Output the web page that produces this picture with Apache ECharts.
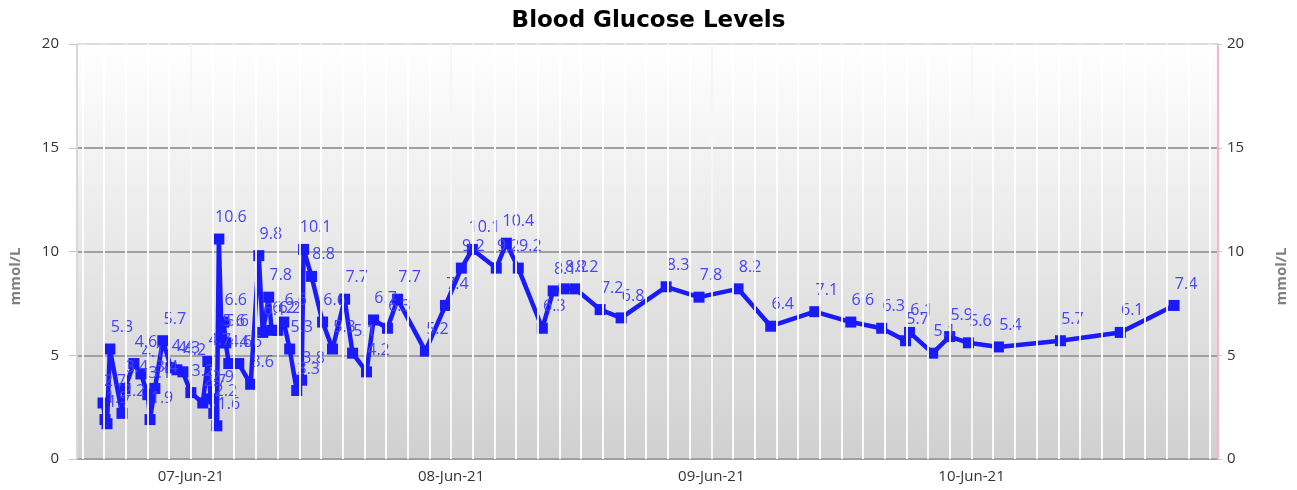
<!DOCTYPE html>
<html>
<head>
<meta charset="utf-8">
<script src="https://cdn.jsdelivr.net/npm/echarts@6/dist/echarts.min.js"></script>
<style>
  html, body { margin: 0; padding: 0; background: #ffffff; }
  #chart { width: 1297px; height: 490px; }
</style>
</head>
<body>
<div id="chart"></div>
<script>
// ---- data ----
var title = 'Blood Glucose Levels';
var axisName = 'mmol/L';
var times = [
  '2021-06-06 15:54','2021-06-06 16:05','2021-06-06 16:16','2021-06-06 16:32','2021-06-06 17:39',
  '2021-06-06 17:55','2021-06-06 18:45','2021-06-06 19:24','2021-06-06 20:02','2021-06-06 20:14',
  '2021-06-06 20:41','2021-06-06 21:25','2021-06-06 22:10','2021-06-06 22:43','2021-06-06 23:16',
  '2021-06-07 00:00','2021-06-07 01:06','2021-06-07 01:34','2021-06-07 01:50','2021-06-07 02:07',
  '2021-06-07 02:24','2021-06-07 02:35','2021-06-07 02:51','2021-06-07 03:02','2021-06-07 03:13',
  '2021-06-07 03:30','2021-06-07 04:25','2021-06-07 05:31','2021-06-07 06:16','2021-06-07 06:38',
  '2021-06-07 07:11','2021-06-07 07:27','2021-06-07 08:01','2021-06-07 08:34','2021-06-07 09:07',
  '2021-06-07 09:46','2021-06-07 10:13','2021-06-07 10:24','2021-06-07 11:08','2021-06-07 12:09',
  '2021-06-07 13:04','2021-06-07 14:11','2021-06-07 14:55','2021-06-07 16:12','2021-06-07 16:51',
  '2021-06-07 18:08','2021-06-07 19:04','2021-06-07 21:38','2021-06-07 23:29','2021-06-08 00:57',
  '2021-06-08 01:58','2021-06-08 04:10','2021-06-08 05:06','2021-06-08 06:12','2021-06-08 08:25',
  '2021-06-08 09:25','2021-06-08 10:26','2021-06-08 11:27','2021-06-08 13:45','2021-06-08 15:41',
  '2021-06-08 19:50','2021-06-08 22:52','2021-06-09 02:28','2021-06-09 05:29','2021-06-09 09:33',
  '2021-06-09 12:52','2021-06-09 15:43','2021-06-09 17:55','2021-06-09 18:17','2021-06-09 20:25',
  '2021-06-09 21:59','2021-06-09 23:43','2021-06-10 02:29','2021-06-10 08:12','2021-06-10 13:43',
  '2021-06-10 18:41'
];
var glucose = [
  2.7, 1.9, 1.7, 5.3, 2.2,
  3.4, 4.6, 4.1, 3.1, 1.9,
  3.4, 5.7, 4.4, 4.3, 4.2,
  3.2, 2.7, 4.7, 2.9, 2.2,
  1.6, 10.6, 5.6, 6.6, 5.6,
  4.6, 4.6, 3.6, 9.8, 6.1,
  7.8, 6.2, 6.2, 6.6, 5.3,
  3.3, 3.8, 10.1, 8.8, 6.6,
  5.3, 7.7, 5.1, 4.2, 6.7,
  6.3, 7.7, 5.2, 7.4, 9.2,
  10.1, 9.2, 10.4, 9.2, 6.3,
  8.1, 8.2, 8.2, 7.2, 6.8,
  8.3, 7.8, 8.2, 6.4, 7.1,
  6.6, 6.3, 5.7, 6.1, 5.1,
  5.9, 5.6, 5.4, 5.7, 6.1,
  7.4
];
var xMin = '2021-06-06 13:30';
var xMax = '2021-06-10 22:44';
var monthNames = ['Jan','Feb','Mar','Apr','May','Jun','Jul','Aug','Sep','Oct','Nov','Dec'];

// ---- build ----
var seriesData = times.map(function (t, i) { return [t, glucose[i]]; });

var HOUR = 3600 * 1000;
var minT = new Date(xMin.replace(' ', 'T')).getTime();
var maxT = new Date(xMax.replace(' ', 'T')).getTime();
var minorLines = [];
var start = Math.ceil(minT / (2 * HOUR)) * 2 * HOUR;
for (var t = start; t < maxT; t += 2 * HOUR) minorLines.push({ xAxis: t });

function pad(n) { return (n < 10 ? '0' : '') + n; }
function dateLabel(v) {
  var d = new Date(v);
  return pad(d.getDate()) + '-' + monthNames[d.getMonth()] + '-' + pad(d.getFullYear() % 100);
}

var font = '"Open Sans", "Noto Sans", sans-serif';
var chart = echarts.init(document.getElementById('chart'), null, { renderer: 'canvas' });
chart.setOption({
  animation: false,
  backgroundColor: '#ffffff',
  title: {
    text: title,
    left: 'center',
    top: 5,
    textStyle: { fontFamily: '"DejaVu Sans", Verdana, sans-serif', fontWeight: 'bold', fontSize: 23, color: '#000000' }
  },
  grid: {
    left: 76, right: 78, top: 44, bottom: 31,
    show: true,
    z: 0,
    borderWidth: 0,
    backgroundColor: new echarts.graphic.LinearGradient(0, 0, 0, 1, [
      { offset: 0, color: '#ffffff' },
      { offset: 1, color: '#d0d0d0' }
    ])
  },
  xAxis: {
    type: 'time',
    min: xMin,
    max: xMax,
    z: 1,
    minInterval: 24 * HOUR,
    maxInterval: 24 * HOUR,
    axisLine: { show: false },
    axisTick: { show: false },
    axisLabel: {
      formatter: dateLabel,
      showMinLabel: false,
      showMaxLabel: false,
      color: '#333333',
      fontSize: 15,
      fontFamily: font,
      margin: 10
    },
    splitLine: { show: true, lineStyle: { color: ['#dadada', '#a0a0a0', '#a0a0a0', '#a0a0a0', '#a0a0a0', '#ffb3bc'], width: 2 } }
  },
  yAxis: [
    {
      type: 'value', min: 0, max: 20, interval: 5, z: 1,
      name: axisName, nameLocation: 'middle', nameGap: 54,
      nameTextStyle: { color: '#808080', fontSize: 15, fontWeight: 'bold', fontFamily: font, padding: [0, 50, 0, 0] },
      axisLine: { show: true, lineStyle: { color: '#d8d8d8', width: 1 } },
      axisTick: { show: true, length: 8, lineStyle: { color: '#c8c8c8' } },
      axisLabel: { color: '#333333', fontSize: 15, fontFamily: font, margin: 18 },
      splitLine: { show: true, lineStyle: { color: ['#a0a0a0', '#a0a0a0', '#a0a0a0', '#a0a0a0', '#dcdcdc'], width: 2 } }
    },
    {
      type: 'value', min: 0, max: 20, interval: 5, z: 1, position: 'right',
      name: axisName, nameLocation: 'middle', nameGap: 56,
      nameTextStyle: { color: '#808080', fontSize: 15, fontWeight: 'bold', fontFamily: font, padding: [0, 50, 0, 0] },
      axisLine: { show: true, lineStyle: { color: '#ffb3bc', width: 1.5 } },
      axisTick: { show: true, length: 4, lineStyle: { color: '#c8c8c8' } },
      axisLabel: { color: '#333333', fontSize: 15, fontFamily: font, margin: 9 },
      splitLine: { show: false }
    }
  ],
  series: [
    {
      type: 'line',
      data: [],
      z: 0.5,
      silent: true,
      markLine: {
        silent: true,
        symbol: 'none',
        label: { show: false },
        lineStyle: { color: '#ffffff', width: 2, type: 'solid', opacity: 0.9 },
        data: minorLines
      }
    },
    {
      type: 'line',
      data: seriesData,
      z: 3,
      symbol: 'rect',
      symbolSize: 11,
      lineStyle: { color: '#1a1aff', width: 4.5 },
      itemStyle: { color: '#1a1aff' },
      label: {
        show: true,
        position: 'top',
        distance: 8,
        offset: [12, 0],
        color: '#4444ff',
        fontSize: 16,
        fontFamily: font,
        formatter: function (p) { return p.value[1].toFixed(1); }
      }
    }
  ]
});
</script>
</body>
</html>
